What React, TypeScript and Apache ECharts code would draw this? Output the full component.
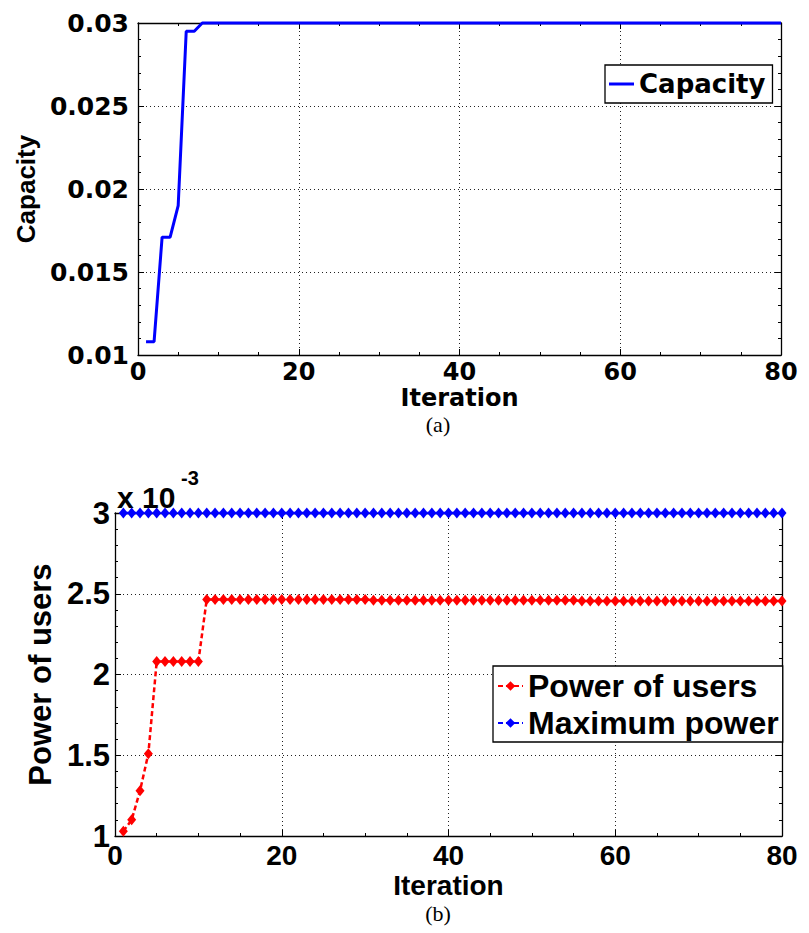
import React, { useEffect, useRef } from "react";
import * as echarts from "echarts";

// Panel (a): capacity per iteration (iterations 1..80)
const capacity = [
  0.0108, 0.0108, 0.0171, 0.0171, 0.019, 0.0295, 0.0295, 0.03, 0.03, 0.03,
  0.03, 0.03, 0.03, 0.03, 0.03, 0.03, 0.03, 0.03, 0.03, 0.03,
  0.03, 0.03, 0.03, 0.03, 0.03, 0.03, 0.03, 0.03, 0.03, 0.03,
  0.03, 0.03, 0.03, 0.03, 0.03, 0.03, 0.03, 0.03, 0.03, 0.03,
  0.03, 0.03, 0.03, 0.03, 0.03, 0.03, 0.03, 0.03, 0.03, 0.03,
  0.03, 0.03, 0.03, 0.03, 0.03, 0.03, 0.03, 0.03, 0.03, 0.03,
  0.03, 0.03, 0.03, 0.03, 0.03, 0.03, 0.03, 0.03, 0.03, 0.03,
  0.03, 0.03, 0.03, 0.03, 0.03, 0.03, 0.03, 0.03, 0.03, 0.03,
];

// Panel (b): values in units of 10^-3 (iterations 1..80)
const powerOfUsers = [
  1.03, 1.1, 1.28, 1.51, 2.08, 2.08, 2.08, 2.08, 2.08, 2.08,
  2.465, 2.465, 2.465, 2.465, 2.465, 2.465, 2.465, 2.465, 2.465, 2.465,
  2.465, 2.465, 2.465, 2.465, 2.465, 2.465, 2.465, 2.465, 2.465, 2.465,
  2.46, 2.46, 2.46, 2.46, 2.46, 2.46, 2.46, 2.46, 2.46, 2.46,
  2.46, 2.46, 2.46, 2.46, 2.46, 2.46, 2.46, 2.46, 2.46, 2.46,
  2.46, 2.46, 2.46, 2.46, 2.46, 2.455, 2.455, 2.455, 2.455, 2.455,
  2.455, 2.455, 2.455, 2.455, 2.455, 2.455, 2.455, 2.455, 2.455, 2.455,
  2.455, 2.455, 2.455, 2.455, 2.455, 2.455, 2.455, 2.455, 2.455, 2.455,
];

const maximumPower = [
  3, 3, 3, 3, 3, 3, 3, 3, 3, 3,
  3, 3, 3, 3, 3, 3, 3, 3, 3, 3,
  3, 3, 3, 3, 3, 3, 3, 3, 3, 3,
  3, 3, 3, 3, 3, 3, 3, 3, 3, 3,
  3, 3, 3, 3, 3, 3, 3, 3, 3, 3,
  3, 3, 3, 3, 3, 3, 3, 3, 3, 3,
  3, 3, 3, 3, 3, 3, 3, 3, 3, 3,
  3, 3, 3, 3, 3, 3, 3, 3, 3, 3,
];

const xRange = { min: 0, max: 80, interval: 20 };
const capacityRange = { min: 0.01, max: 0.03, interval: 0.005 };
const powerRange = { min: 1, max: 3, interval: 0.5 };

const WIDE = "DejaVu Sans";
const SANS = "Liberation Sans";
const SERIF = "Liberation Serif";

const fontA = { fontFamily: WIDE, fontWeight: "bold" as const, fontSize: 25, color: "#000" };
const fontAX = { ...fontA, fontSize: 24 };
const fontAName = { fontFamily: SANS, fontWeight: "bold" as const, fontSize: 26, color: "#000" };
const fontALegend = { fontFamily: WIDE, fontWeight: "bold" as const, fontSize: 26, color: "#000" };
const fontB = { fontFamily: SANS, fontWeight: "bold" as const, fontSize: 31, color: "#000" };
const fontBX = { ...fontB, fontSize: 28 };
const fontBLegend = { fontFamily: SANS, fontWeight: "bold" as const, fontSize: 32, color: "#000" };

const toPairs = (arr: number[]) => arr.map((v, i) => [i + 1, v]);

const gridLine = { show: true, lineStyle: { color: "#222", type: [1, 3], width: 1 } };
const axisLine = { show: true, onZero: false, lineStyle: { color: "#000", width: 1.3 } };
const tick = { show: true, inside: true, length: 6, lineStyle: { color: "#000" } };

function xAxes(gridIndex: number, labelFont: any, nameFont: any, margin: number, nameGap: number) {
  return [
    {
      gridIndex,
      type: "value",
      position: "bottom",
      ...xRange,
      axisLine,
      axisTick: tick,
      minorTick: { show: true, splitNumber: 4, length: 3, lineStyle: { color: "#000" } },
      splitLine: gridLine,
      axisLabel: { ...labelFont, margin },
      name: "Iteration",
      nameLocation: "middle",
      nameGap,
      nameTextStyle: nameFont,
    },
    {
      gridIndex,
      type: "value",
      position: "top",
      ...xRange,
      axisLine,
      axisTick: tick,
      minorTick: { show: true, splitNumber: 4, length: 3, lineStyle: { color: "#000" } },
      splitLine: { show: false },
      axisLabel: { show: false },
    },
  ];
}

function yAxes(
  gridIndex: number,
  range: any,
  name: string,
  nameGap: number,
  labelFont: any,
  nameFont: any,
  margin: number,
  fmt: (v: number) => string
) {
  return [
    {
      gridIndex,
      type: "value",
      position: "left",
      ...range,
      axisLine,
      axisTick: tick,
      minorTick: { show: true, splitNumber: 5, length: 3, lineStyle: { color: "#000" } },
      splitLine: gridLine,
      axisLabel: { ...labelFont, margin, formatter: fmt },
      name,
      nameLocation: "middle",
      nameGap,
      nameTextStyle: nameFont,
    },
    {
      gridIndex,
      type: "value",
      position: "right",
      ...range,
      axisLine,
      axisTick: tick,
      minorTick: { show: true, splitNumber: 5, length: 3, lineStyle: { color: "#000" } },
      splitLine: { show: false },
      axisLabel: { show: false },
    },
  ];
}

export default function App() {
  const ref = useRef<HTMLDivElement>(null);

  useEffect(() => {
    if (!ref.current) return;
    const chart = echarts.init(ref.current, undefined, { renderer: "svg" });
    const option: any = {
      animation: false,
      backgroundColor: "#fff",
      grid: [
        { left: 138, top: 23, width: 643, height: 332, show: true, borderWidth: 0, backgroundColor: "#fff" },
        { left: 115, top: 513, width: 667, height: 323, show: true, borderWidth: 0, backgroundColor: "#fff" },
      ],
      xAxis: [...xAxes(0, fontAX, fontAX, 5, 31), ...xAxes(1, fontBX, fontBX, 5, 35)],
      yAxis: [
        ...yAxes(0, capacityRange, "Capacity", 85, fontA, fontAName, 9, (v: number) => String(+v.toFixed(3))),
        ...yAxes(1, powerRange, "Power of users", 52, fontB, fontB, 5, (v: number) => String(+v.toFixed(1))),
      ],
      legend: [
        {
          data: [{ name: "Capacity", icon: "rect" }],
          left: 605,
          top: 65,
          orient: "vertical",
          backgroundColor: "#fff",
          borderColor: "#000",
          borderWidth: 1.3,
          borderRadius: 0,
          padding: [6, 7, 6, 4],
          itemWidth: 25,
          itemHeight: 3,
          selectedMode: false,
          textStyle: fontALegend,
        },
        {
          data: ["Power of users", "Maximum power"],
          left: 493,
          top: 666,
          orient: "vertical",
          backgroundColor: "#fff",
          borderColor: "#000",
          borderWidth: 1.3,
          borderRadius: 0,
          padding: [4, 4, 3, 4],
          itemGap: 5,
          itemWidth: 25,
          itemHeight: 12,
          selectedMode: false,
          textStyle: fontBLegend,
        },
      ],
      series: [
        {
          name: "Capacity",
          type: "line",
          xAxisIndex: 0,
          yAxisIndex: 0,
          data: toPairs(capacity),
          symbol: "none",
          color: "#0000ff",
          lineStyle: { color: "#0000ff", width: 3 },
          clip: false,
        },
        {
          name: "Power of users",
          type: "line",
          xAxisIndex: 2,
          yAxisIndex: 2,
          data: toPairs(powerOfUsers),
          symbol: "diamond",
          symbolSize: [9, 11],
          color: "#ff0000",
          itemStyle: { color: "#ff0000" },
          lineStyle: { color: "#ff0000", width: 2.5, type: [5, 3] },
          clip: false,
        },
        {
          name: "Maximum power",
          type: "line",
          xAxisIndex: 2,
          yAxisIndex: 2,
          data: toPairs(maximumPower),
          symbol: "diamond",
          symbolSize: [9, 11],
          color: "#0000ff",
          itemStyle: { color: "#0000ff" },
          lineStyle: { color: "#0000ff", width: 2.5, type: [5, 3] },
          clip: false,
        },
      ],
      graphic: [
        {
          type: "text",
          left: 117,
          top: 482,
          style: { text: "x 10", fill: "#000", font: `bold 30px "${SANS}"` },
        },
        {
          type: "text",
          left: 181,
          top: 468,
          style: { text: "-3", fill: "#000", font: `bold 20px "${SANS}"` },
        },
        {
          type: "text",
          x: 438,
          y: 424,
          style: { text: "(a)", fill: "#000", font: `22px "${SERIF}"`, align: "center", verticalAlign: "middle" },
        },
        {
          type: "text",
          x: 438,
          y: 913,
          style: { text: "(b)", fill: "#000", font: `22px "${SERIF}"`, align: "center", verticalAlign: "middle" },
        },
      ],
    };
    chart.setOption(option);
    return () => chart.dispose();
  }, []);

  return (
    <div
      ref={ref}
      style={{ position: "absolute", left: 0, top: 0, width: 809, height: 933, background: "#fff" }}
    />
  );
}
